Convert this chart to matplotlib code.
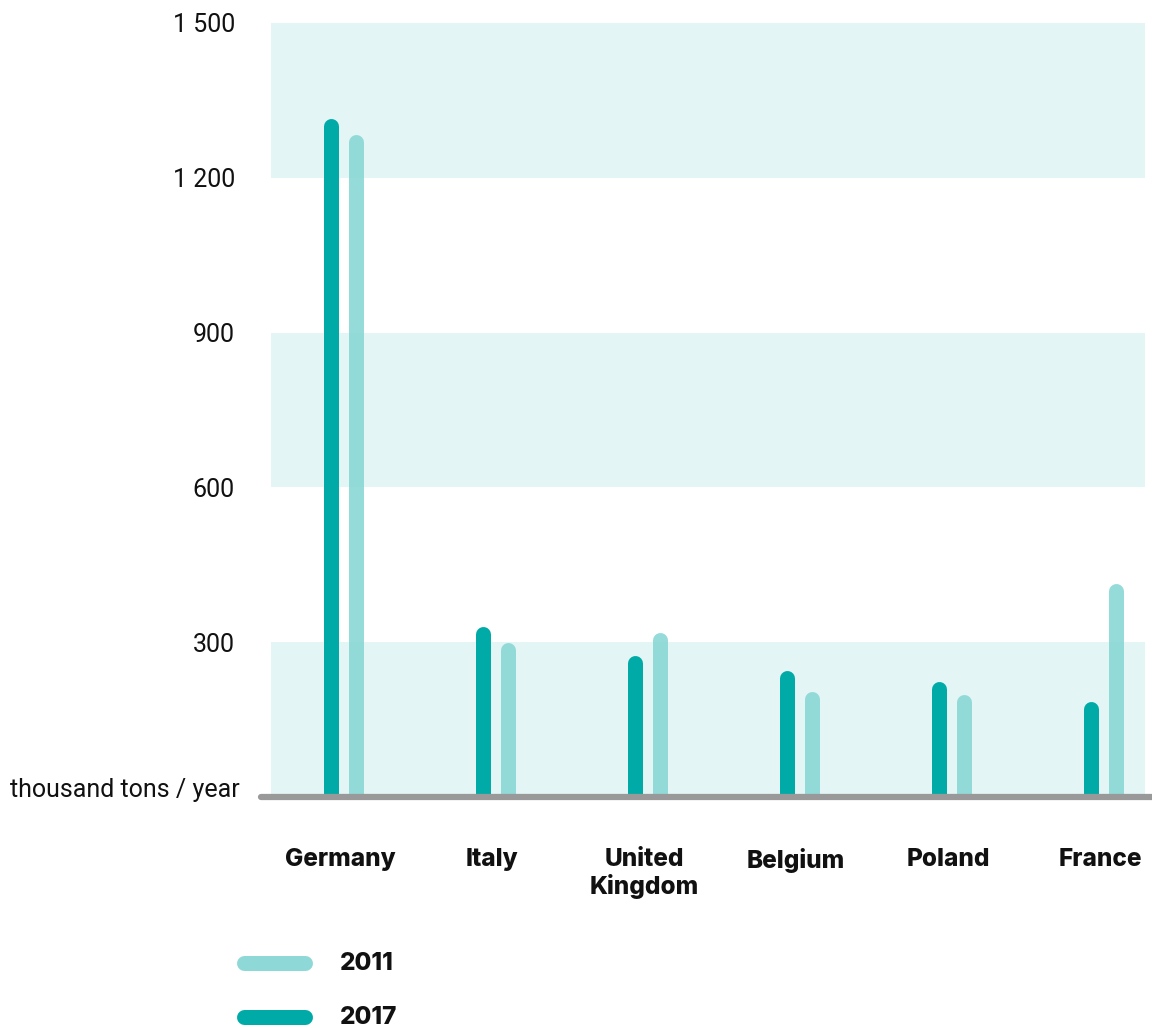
import matplotlib
matplotlib.use("Agg")
import matplotlib.pyplot as plt
from matplotlib.lines import Line2D

# data
countries = ["Germany", "Italy", "United\nKingdom", "Belgium", "Poland", "France"]
values_2017 = [1300, 315, 260, 230, 210, 170]
values_2011 = [1270, 285, 305, 190, 185, 400]
y_ticks = [300, 600, 900, 1200, 1500]
y_labels = ["300", "600", "900", "1 200", "1 500"]
bands = [(0, 300), (600, 900), (1200, 1500)]

dark = "#00ABA7"
light = "#8ED9D7"
band_col = "#E3F5F5"

fig = plt.figure(figsize=(11.52, 10.28), dpi=100)
ax = fig.add_axes([271 / 1152, 1 - 797 / 1028, 874 / 1152, 774 / 1028])

for lo, hi in bands:
    ax.axhspan(lo, hi, color=band_col, lw=0, zorder=0)

off = 0.082
lw = 10.8  # points, ~15px
for i, (v17, v11) in enumerate(zip(values_2017, values_2011)):
    ax.plot([i - off + 0.02, i - off + 0.02], [0, v17], color=dark, lw=lw, solid_capstyle="round", zorder=3)
    ax.plot([i + off + 0.02, i + off + 0.02], [0, v11], color=light, lw=lw, solid_capstyle="round", zorder=3, alpha=0.95)

ax.set_xlim(-0.454, 5.296)
ax.set_ylim(0, 1500)

# baseline
ax.plot([-0.012, 1.01], [0, 0], transform=ax.transAxes, color="#999999", lw=4.5,
        solid_capstyle="round", clip_on=False, zorder=4)

for s in ax.spines.values():
    s.set_visible(False)

ax.set_yticks(y_ticks)
ax.set_yticklabels(y_labels, fontfamily="Roboto", fontsize=18, color="#111111")
ax.tick_params(axis="y", length=0, pad=26)
ax.set_xticks(range(len(countries)))
ax.set_xticklabels(countries, fontfamily="Inter", fontweight="heavy", fontsize=17.5,
                   color="#111111", linespacing=1.15, va="top")
ax.tick_params(axis="x", length=0, pad=37)

fig.text(10 / 1152, 1 - 790 / 1028, "thousand tons / year", fontfamily="Roboto",
         fontsize=18, color="#111111", va="center", ha="left")

# legend
for yy, col, lab in [(963, light, "2011"), (1017, dark, "2017")]:
    fy = 1 - yy / 1028
    fig.add_artist(Line2D([244 / 1152, 305 / 1152], [fy, fy], color=col, lw=lw,
                          solid_capstyle="round", transform=fig.transFigure))
    fig.text(340 / 1152, fy, lab, fontfamily="Inter", fontweight="heavy", fontsize=17.5,
             color="#111111", va="center", ha="left")

fig.savefig("out.png", dpi=100)
